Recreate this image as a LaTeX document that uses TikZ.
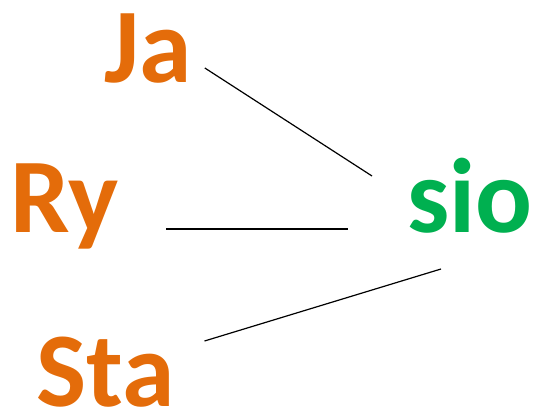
\documentclass[tikz,border=0pt]{standalone}
\usepackage{fontspec}
\setmainfont{Carlito}
\usepackage{tikz}
\usetikzlibrary{positioning}
\definecolor{wordorange}{HTML}{E46C0A}
\definecolor{wordgreen}{HTML}{00B050}
\tikzset{
word/.style={
    inner sep=0pt,
    anchor=base west,
    font=\fontsize{106}{120}\selectfont\bfseries
},
link/.style={
    draw=black,
    line width=1.2pt
}}

\begin{document}
\begin{tikzpicture}[x=1pt, y=1pt]
    \useasboundingbox (0,0) rectangle (534,409);

    % words
    \node[word, text=wordorange] (Ja) at (104,326) {Ja};
    \node[word, text=wordorange] (Ry) at (10,176) {Ry};
    \node[word, text=wordorange] (Sta) at (36,3) {Sta};
    \node[word, text=wordgreen] (sio) at (407,176) {sio};

    % links
    \draw[link] ([shift={(13,15)}]Ja.base east) -- ([shift={(-35,57)}]sio.base west);
    \draw[link] ([shift={(47,4)}]Ry.base east) -- ([shift={(-59,4)}]sio.base west);
    \draw[link] ([shift={(30,65)}]Sta.base east) -- ([shift={(34,-36)}]sio.base west);
\end{tikzpicture}
\end{document}
